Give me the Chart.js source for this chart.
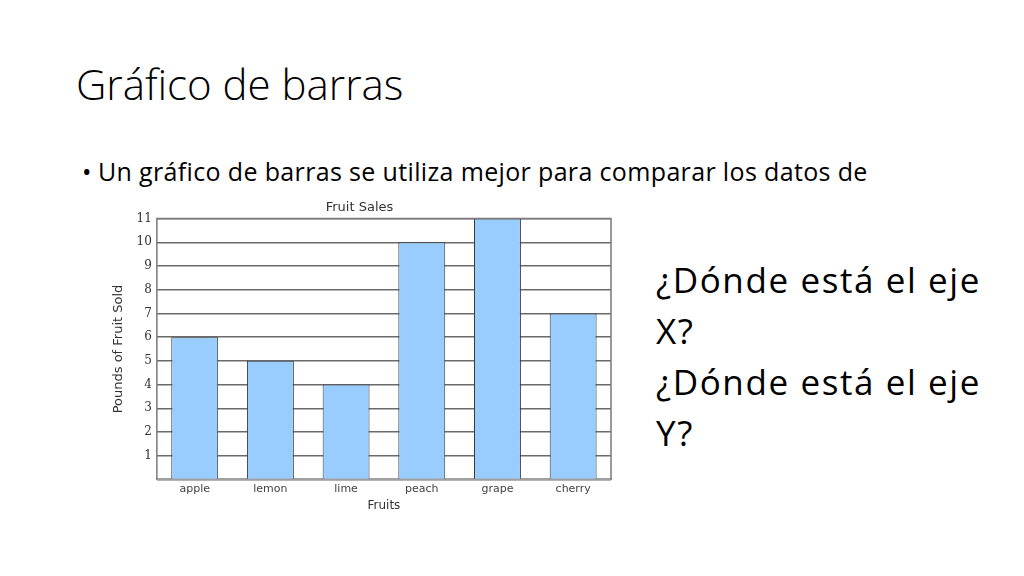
<!DOCTYPE html>
<html>
<head>
<meta charset="utf-8">
<script src="https://cdn.jsdelivr.net/npm/chart.js@4"></script>
<style>
  html, body { margin: 0; padding: 0; background: #fff; }
  body { width: 1024px; height: 576px; position: relative; overflow: hidden; font-family: 'Open Sans', sans-serif; color: #000; }
  .slide-title { position: absolute; left: 76px; top: 55px; font-size: 42px; font-weight: 300; white-space: nowrap; line-height: normal; }
  .bullet-dot { position: absolute; left: 82px; top: 154px; font-size: 25px; }
  .bullet { position: absolute; left: 98px; top: 154px; font-size: 25px; letter-spacing: 0.35px; white-space: nowrap; line-height: normal; }
  .question { position: absolute; left: 656px; top: 254px; font-size: 35px; line-height: 51px; letter-spacing: 1.6px; white-space: nowrap; }
  .chart-box { position: absolute; left: 100px; top: 195px; width: 520px; height: 320px; }
</style>
</head>
<body>
  <div class="slide-title">Gráfico de barras</div>
  <div class="bullet-dot">•</div>
  <div class="bullet">Un gráfico de barras se utiliza mejor para comparar los datos de</div>
  <div class="question">¿Dónde está el eje<br>X?<br>¿Dónde está el eje<br>Y?</div>
  <div class="chart-box"><canvas id="fruitChart"></canvas></div>

<script>
// Chart data
const fruits = ['apple', 'lemon', 'lime', 'peach', 'grape', 'cherry'];
const poundsSold = [6, 5, 4, 10, 11, 7];
const yTicks = [0, 1, 2, 3, 4, 5, 6, 7, 8, 9, 10, 11];

// draws the box around the plot area (right edge isn't an axis)
const plotFrame = {
  id: 'plotFrame',
  afterDraw(chart) {
    const { ctx, chartArea: a } = chart;
    ctx.save();
    ctx.strokeStyle = '#7a7a7a';
    ctx.lineWidth = 1.5;
    ctx.beginPath();
    ctx.moveTo(a.left, a.bottom);
    ctx.lineTo(a.left, a.top);
    ctx.lineTo(a.right, a.top);
    ctx.lineTo(a.right, a.bottom);
    ctx.stroke();
    ctx.restore();
  }
};

document.addEventListener('DOMContentLoaded', () => {
  const ctx = document.getElementById('fruitChart').getContext('2d');

  new Chart(ctx, {
    type: 'bar',
    data: {
      labels: fruits,
      datasets: [{
        label: 'Pounds of Fruit Sold',
        data: poundsSold,
        backgroundColor: '#99ccff',
        borderColor: '#3a3a3a',
        borderWidth: 1,
        borderSkipped: 'bottom',
        categoryPercentage: 0.62,
        barPercentage: 1
      }]
    },
    options: {
      responsive: true,
      maintainAspectRatio: false,
      animation: false,
      layout: { padding: { top: 0, right: 9, bottom: 0, left: 8 } },
      plugins: {
        legend: { display: false },
        tooltip: { enabled: false },
        title: {
          display: true,
          text: 'Fruit Sales',
          color: '#333',
          font: { family: "'DejaVu Sans', sans-serif", size: 13, weight: 'normal' },
          padding: { top: 5, bottom: 3 }
        }
      },
      scales: {
        x: {
          grid: { display: false, drawTicks: false },
          border: { display: true, color: '#a0a0a0', width: 2 },
          ticks: { color: '#444', font: { family: "'DejaVu Sans', sans-serif", size: 11 }, padding: 3 },
          title: {
            display: true,
            text: 'Fruits',
            color: '#333',
            font: { family: "'DejaVu Sans', sans-serif", size: 12 },
            padding: { top: 0, bottom: 2 }
          }
        },
        y: {
          min: yTicks[0],
          max: yTicks[yTicks.length - 1],
          afterBuildTicks: (axis) => { axis.ticks = yTicks.map(v => ({ value: v })); },
          grid: { color: '#6a6a6a', lineWidth: 1.5, drawTicks: false },
          border: { display: false },
          ticks: {
            color: '#333',
            font: { family: "'DejaVu Serif', serif", size: 12 },
            padding: 5,
            callback: (v) => (v === 0 ? '' : v)
          },
          title: {
            display: true,
            text: 'Pounds of Fruit Sold',
            color: '#333',
            font: { family: "'DejaVu Sans', sans-serif", size: 13 },
            padding: { top: 3, bottom: 5 }
          }
        }
      }
    },
    plugins: [plotFrame]
  });
});
</script>
</body>
</html>
